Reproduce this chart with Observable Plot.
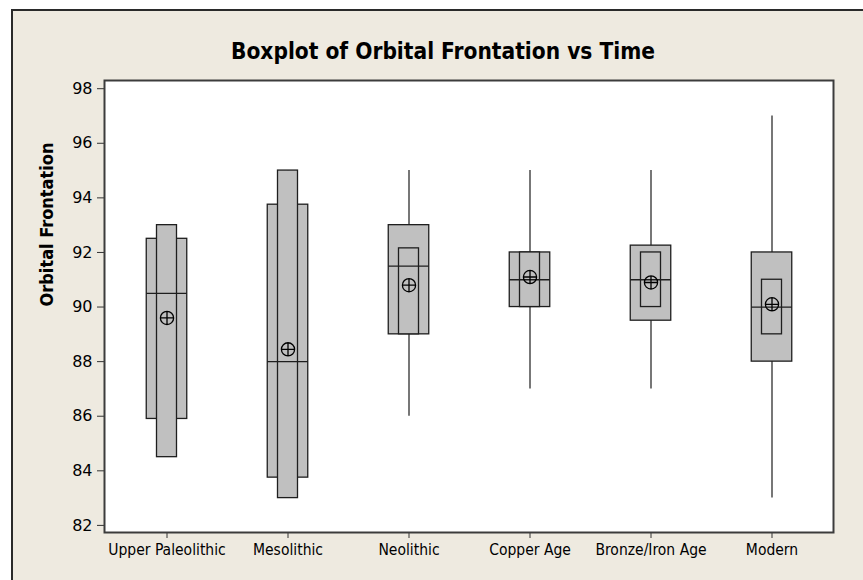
<!DOCTYPE html>
<html>
<head>
<meta charset="utf-8">
<script src="https://cdn.jsdelivr.net/npm/d3@7"></script>
<script src="https://cdn.jsdelivr.net/npm/@observablehq/plot@0.6"></script>
<style>
  html, body { margin: 0; padding: 0; background: #ffffff; }
  body { position: relative; width: 863px; height: 580px; overflow: hidden; }
  #panel { position: absolute; left: 11px; top: 9px; width: 852px; height: 571px; box-sizing: border-box;
           background: #eeeae0; border-top: 2px solid #2a2a2a; border-left: 2px solid #2a2a2a; }
  #title { position: absolute; left: 0; top: 40px; width: 886px; text-align: center; line-height: 1;
           font-family: "DejaVu Sans Condensed", "DejaVu Sans", sans-serif; font-stretch: condensed;
           font-weight: bold; font-size: 22.5px; color: #000; }
  #chart { position: absolute; left: 0; top: 64px; }
  #chart svg { background: transparent; overflow: visible; }
  #chart [aria-label="y-axis tick label"] { font-family: "DejaVu Sans", sans-serif; fill: #000; }
  #chart [aria-label="x-axis tick label"] { font-family: "DejaVu Sans Condensed", "DejaVu Sans", sans-serif; font-stretch: condensed; fill: #000; }
</style>
</head>
<body>
<div id="panel"></div>
<div id="title"></div>
<div id="chart"></div>
<script>
const titleText = "Boxplot of Orbital Frontation vs Time";
const yLabel = "Orbital Frontation";
const categories = ["Upper Paleolithic", "Mesolithic", "Neolithic", "Copper Age", "Bronze/Iron Age", "Modern"];
const whiskerLow  = [84.5, 83.0, 86.0, 87.0, 87.0, 83.0];
const q1          = [85.9, 83.75, 89.0, 90.0, 89.5, 88.0];
const median      = [90.5, 88.0, 91.5, 91.0, 91.0, 90.0];
const q3          = [92.5, 93.75, 93.0, 92.0, 92.25, 92.0];
const whiskerHigh = [93.0, 95.0, 95.0, 95.0, 95.0, 97.0];
const ciLow       = [84.5, 83.0, 89.0, 90.0, 90.0, 89.0];
const ciHigh      = [93.0, 95.0, 92.15, 92.0, 92.0, 91.0];
const mean        = [89.6, 88.45, 90.8, 91.1, 90.9, 90.1];
const yTicks = [82, 84, 86, 88, 90, 92, 94, 96, 98];

document.getElementById("title").textContent = titleText;

const data = categories.map((c, i) => ({
  cat: c, lo: whiskerLow[i], q1: q1[i], med: median[i], q3: q3[i], hi: whiskerHigh[i],
  ciLo: ciLow[i], ciHi: ciHigh[i], mean: mean[i]
}));

const circlePlus = {
  draw(context, size) {
    const r = Math.sqrt(size / Math.PI);
    context.moveTo(r, 0);
    context.arc(0, 0, r, 0, 2 * Math.PI);
    context.moveTo(-r, 0);
    context.lineTo(r, 0);
    context.moveTo(0, -r);
    context.lineTo(0, r);
  }
};

const chart = Plot.plot({
  width: 863,
  height: 516,
  marginTop: 16,
  marginBottom: 48,
  marginLeft: 104,
  marginRight: 30,
  style: { background: "transparent", color: "#333" },
  x: { type: "band", domain: categories, padding: 0 },
  y: { domain: [81.74, 98.3] },
  marks: [
    Plot.frame({ fill: "white", stroke: "none" }),
    Plot.axisY({ ticks: yTicks, tickSize: 7, tickPadding: 5, fontSize: 16, label: null, tickFormat: d => String(d) }),
    Plot.axisX({ tickSize: 6, tickPadding: 5, fontSize: 15.5, label: null }),
    Plot.text([yLabel], { frameAnchor: "left", rotate: -90, dx: -57, fontSize: 18, fontWeight: "bold",
      fontFamily: "'DejaVu Sans Condensed', 'DejaVu Sans', sans-serif", fill: "#000", lineAnchor: "middle" }),
    Plot.ruleX(data, { x: "cat", y1: "lo", y2: "hi", stroke: "#4a4a4a", strokeWidth: 1.5 }),
    Plot.barY(data, { x: "cat", y1: "q1", y2: "q3", insetLeft: 40.25, insetRight: 40.25,
      fill: "#c0c0c0", stroke: "#1e1e1e", strokeWidth: 1.3 }),
    Plot.barY(data, { x: "cat", y1: "ciLo", y2: "ciHi", insetLeft: 50.5, insetRight: 50.5,
      fill: "#c0c0c0", stroke: "#1e1e1e", strokeWidth: 1.3 }),
    Plot.tickY(data, { x: "cat", y: "med", insetLeft: 40.25, insetRight: 40.25, stroke: "#1e1e1e", strokeWidth: 1.3 }),
    Plot.dot(data, { x: "cat", y: "mean", r: 6.6, symbol: circlePlus, fill: "none", stroke: "#000", strokeWidth: 1.3 }),
    Plot.frame({ stroke: "#3c3c3c", strokeWidth: 2 })
  ]
});
document.getElementById("chart").appendChild(chart);
</script>
</body>
</html>
